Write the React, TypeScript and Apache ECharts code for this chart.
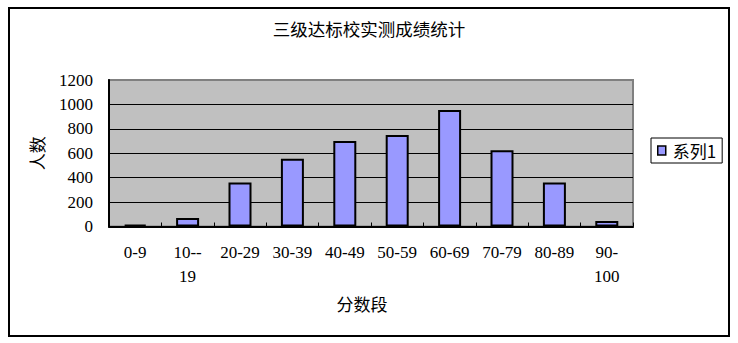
import React, { useEffect, useRef } from "react";
import * as echarts from "echarts";

const categories = ["0-9", "10--\n19", "20-29", "30-39", "40-49", "50-59", "60-69", "70-79", "80-89", "90-\n100"];
const seriesName = "系列1";
const values = [15, 70, 360, 555, 700, 750, 955, 625, 360, 45];
const titleText = "三级达标校实测成绩统计";
const xName = "分数段";
const yName = "人数";

const NUMFONT = "Liberation Serif, Times New Roman, serif";
const FONT = "Noto Sans CJK SC, sans-serif";

export default function App() {
  const ref = useRef<HTMLDivElement>(null);
  useEffect(() => {
    if (!ref.current) return;
    const chart = echarts.init(ref.current, null, { renderer: "svg" });
    chart.setOption({
      animation: false,
      backgroundColor: "#ffffff",
      textStyle: { fontFamily: FONT, color: "#000" },
      title: {
        text: titleText,
        left: "center",
        top: 20,
        padding: 0,
        textStyle: { fontSize: 17.5, fontWeight: "normal", color: "#000", fontFamily: FONT },
      },
      graphic: [
        {
          type: "rect",
          shape: { x: 9, y: 8, width: 720, height: 328 },
          style: { fill: "none", stroke: "#000", lineWidth: 2 },
          silent: true,
        },
      ],
      legend: {
        show: true,
        left: 651,
        top: 138,
        orient: "vertical",
        padding: [4, 6, 4, 6],
        borderColor: "#000",
        borderWidth: 1,
        itemWidth: 8,
        itemHeight: 9,
        itemGap: 0,
        icon: "rect",
        textStyle: { fontSize: 17, color: "#000", fontFamily: FONT, padding: [0, 0, 0, 2] },
        itemStyle: { borderColor: "#000", borderWidth: 1.5 },
        data: [seriesName],
      },
      grid: {
        left: 109,
        right: 105,
        top: 80,
        bottom: 116.5,
        show: true,
        backgroundColor: "#C0C0C0",
        borderColor: "#808080",
        borderWidth: 2,
      },
      xAxis: {
        type: "category",
        data: categories,
        name: xName,
        nameLocation: "middle",
        nameGap: 68,
        nameTextStyle: { fontSize: 17, color: "#000", fontFamily: FONT, padding: [0, 18, 0, 0] },
        axisLine: { lineStyle: { color: "#000", width: 2 } },
        axisTick: { show: true, inside: true, length: 4, lineStyle: { color: "#000", width: 1 } },
        axisLabel: {
          interval: 0,
          color: "#000",
          fontSize: 17,
          fontFamily: NUMFONT,
          lineHeight: 24,
          margin: 14,
        },
        splitLine: { show: false },
      },
      yAxis: {
        type: "value",
        min: 0,
        max: 1200,
        interval: 200,
        name: yName,
        nameLocation: "middle",
        nameGap: 64,
        nameRotate: 90,
        nameTextStyle: { fontSize: 17, color: "#000", fontFamily: FONT },
        axisLine: { show: true, lineStyle: { color: "#000", width: 2 } },
        axisTick: { show: false },
        axisLabel: {
          color: "#000",
          fontSize: 17,
          fontFamily: NUMFONT,
          margin: 16,
          formatter: (v: number) => String(v),
        },
        splitLine: { show: true, showMaxLine: false, lineStyle: { color: "#000", width: 1 } },
      },
      series: [
        {
          name: seriesName,
          type: "bar",
          data: values,
          barWidth: 23,
          itemStyle: { color: "#9999FF", borderColor: "#000", borderWidth: 2 },
        },
      ],
    });
    return () => chart.dispose();
  }, []);
  return (
    <div
      ref={ref}
      style={{ position: "absolute", left: 0, top: 0, width: 738, height: 343 }}
    />
  );
}
